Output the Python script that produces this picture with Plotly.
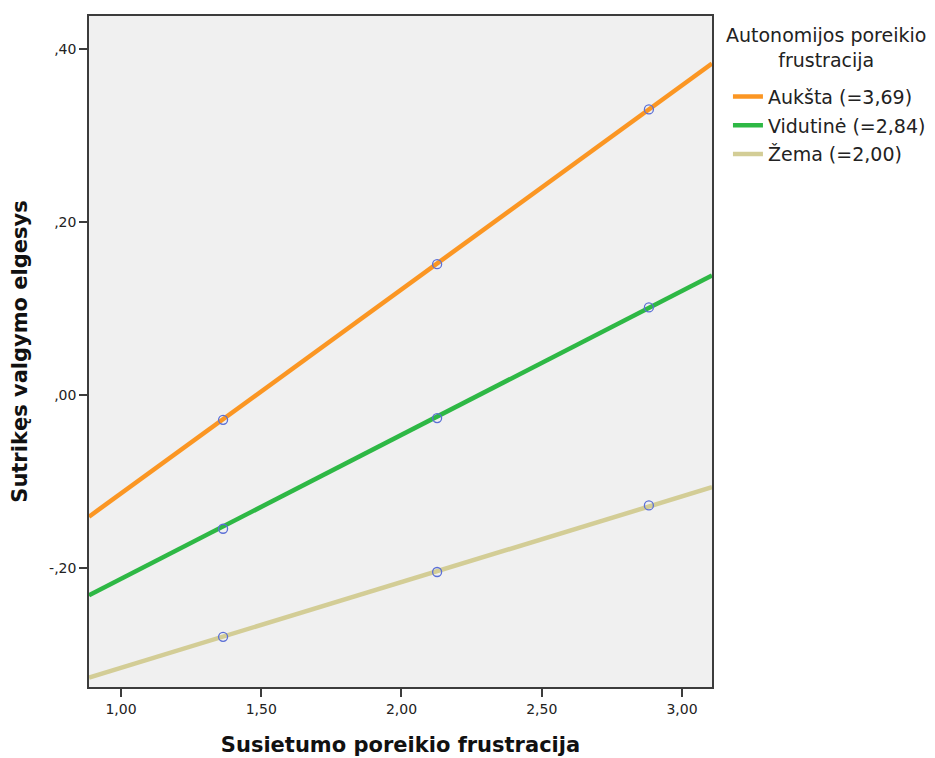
import plotly.graph_objects as go

# Data
point_x = [1.364, 2.127, 2.882]
aukstas_pts = [-0.029, 0.151, 0.330]
vidutine_pts = [-0.155, -0.027, 0.101]
zema_pts = [-0.280, -0.205, -0.128]

line_x = [0.886, 3.107]
aukstas_line = [-0.141, 0.383]
vidutine_line = [-0.232, 0.138]
zema_line = [-0.327, -0.107]

series_names = ["Aukšta (=3,69)", "Vidutinė (=2,84)", "Žema (=2,00)"]
series_colors = ["#fb9623", "#2eb845", "#d3cd96"]
legend_title = "Autonomijos poreikio<br>frustracija"

x_tickvals = [1.0, 1.5, 2.0, 2.5, 3.0]
x_ticktext = ["1,00", "1,50", "2,00", "2,50", "3,00"]
y_tickvals = [-0.2, 0.0, 0.2, 0.4]
y_ticktext = ["-,20", ",00", ",20", ",40"]

fig = go.Figure()
lines = [aukstas_line, vidutine_line, zema_line]
pts = [aukstas_pts, vidutine_pts, zema_pts]
for i, (name, col, ly) in enumerate(zip(series_names, series_colors, lines)):
    fig.add_trace(go.Scatter(x=line_x, y=ly, mode="lines", name=name,
                             line=dict(color=col, width=4.5),
                             legendgroup=f"g{i}"))
for i, py in enumerate(pts):
    fig.add_trace(go.Scatter(x=point_x, y=py, mode="markers", showlegend=False,
                             marker=dict(symbol="circle-open", size=9,
                                         color="#5b6fd6", line=dict(width=1.3)),
                             hoverinfo="skip"))

axis_common = dict(showline=True, linecolor="#3c3c3c", linewidth=1.5, mirror=True,
                   ticks="outside", ticklen=8, tickcolor="#3c3c3c", tickwidth=1.5,
                   showgrid=False, zeroline=False,
                   tickfont=dict(family="DejaVu Sans", size=14, color="#222"))

fig.update_layout(
    width=935, height=758,
    margin=dict(l=81, r=231, t=6, b=79),
    paper_bgcolor="white", plot_bgcolor="#f0f0f0",
    font=dict(family="DejaVu Sans", color="#222"),
    xaxis=dict(range=[0.886, 3.107], tickvals=x_tickvals, ticktext=x_ticktext,
               title=dict(text="<b>Susietumo poreikio frustracija</b>",
                          font=dict(family="DejaVu Sans", size=21, color="#111"), standoff=22),
               **axis_common),
    yaxis=dict(range=[-0.338, 0.438], tickvals=y_tickvals, ticktext=y_ticktext,
               title=dict(text="<b>Sutrikęs valgymo elgesys</b>",
                          font=dict(family="DejaVu Sans", size=21, color="#111"), standoff=16),
               **axis_common),
    legend=dict(xref="container", yref="container", x=0.770, xanchor="left",
                y=0.908, yanchor="top",
                font=dict(family="DejaVu Sans", size=19, color="#222"),
                bgcolor="rgba(0,0,0,0)", traceorder="grouped", tracegroupgap=1,
                itemwidth=30),
    annotations=[dict(text=legend_title, xref="paper", yref="paper",
                      x=1.183, y=0.991, xanchor="center", yanchor="top",
                      showarrow=False, align="center",
                      font=dict(family="DejaVu Sans", size=19, color="#222"))],
    showlegend=True,
)

fig.write_html("out.html")
